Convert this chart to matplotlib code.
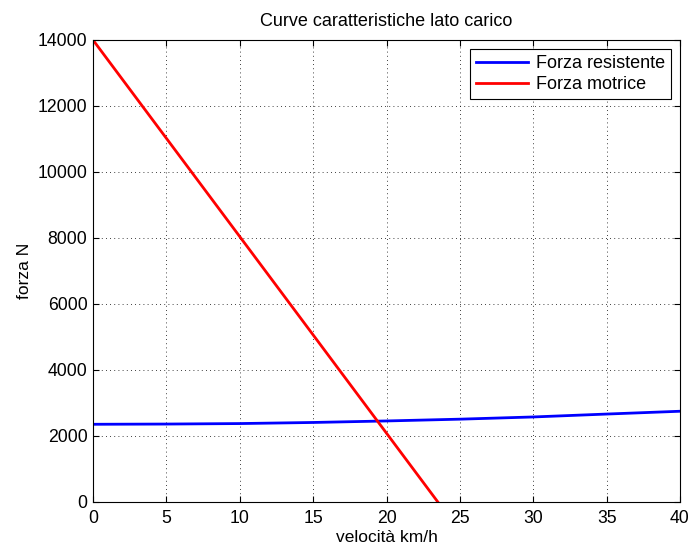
import numpy as np
import matplotlib
matplotlib.use("Agg")
import matplotlib.pyplot as plt

# data
v_res = [0, 5, 10, 15, 20, 25, 30, 35, 40]
f_res = [2355, 2362, 2377, 2410, 2456, 2510, 2577, 2665, 2750]
v_mot = [0, 23.5]
f_mot = [14000, 0]

plt.rcParams['font.family'] = ['Liberation Sans', 'DejaVu Sans']
plt.rcParams['font.size'] = 13

fig = plt.figure(figsize=(6.89, 5.49), dpi=100)
ax = fig.add_axes([93/689, 1 - 502/549, (680-93)/689, (502-40)/549])

ax.plot(v_res, f_res, color='#0000ff', lw=2, label='Forza resistente')
ax.plot(v_mot, f_mot, color='#ff0000', lw=2, label='Forza motrice')

ax.set_xlim(0, 40)
ax.set_ylim(0, 14000)
ax.set_xticks(np.arange(0, 41, 5))
ax.set_yticks(np.arange(0, 14001, 2000))
ax.tick_params(direction='in', top=True, right=True, length=4, labelsize=12.7)
ax.tick_params(axis='x', pad=6)
ax.tick_params(axis='y', pad=4)
ax.grid(True, color='black', linestyle=(0, (1, 4)), linewidth=0.6)
for s in ax.spines.values():
    s.set_linewidth(0.8)

ax.set_xlabel("velocità km/h", fontsize=12.5, labelpad=2)
ax.set_ylabel("forza N", fontsize=12.5, labelpad=4)
ax.set_title("Curve caratteristiche lato carico", fontsize=13, pad=10)

leg = ax.legend(loc='upper right', fontsize=13, fancybox=False, framealpha=1,
                edgecolor='black', handlelength=2.9, handletextpad=0.4,
                borderaxespad=0.5, borderpad=0.35, labelspacing=0.2)
leg.get_frame().set_linewidth(0.8)

fig.savefig("out.png", dpi=100)
